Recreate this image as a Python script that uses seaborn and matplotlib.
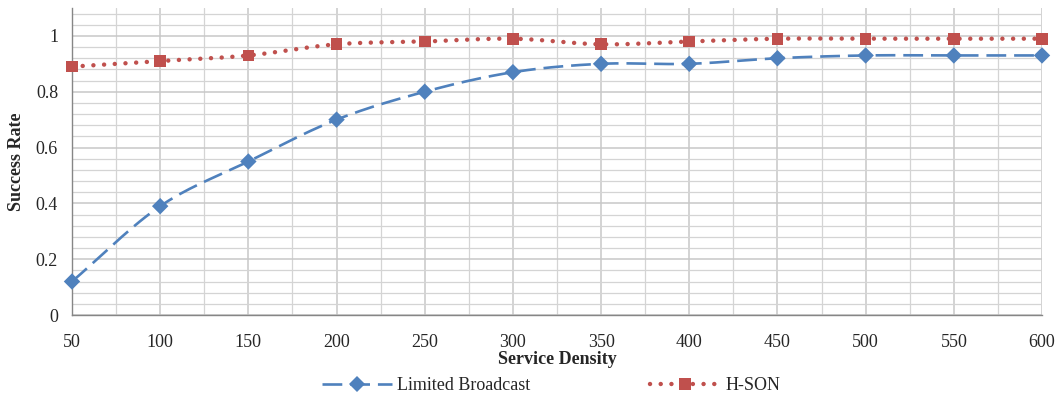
import numpy as np
import pandas as pd
import matplotlib
matplotlib.use("Agg")
import matplotlib.pyplot as plt
from matplotlib.ticker import MultipleLocator
from matplotlib.lines import Line2D
import seaborn as sns

density = [50, 100, 150, 200, 250, 300, 350, 400, 450, 500, 550, 600]
limited_broadcast = [0.12, 0.39, 0.55, 0.70, 0.80, 0.87, 0.90, 0.90, 0.92, 0.93, 0.93, 0.93]
h_son = [0.89, 0.91, 0.93, 0.97, 0.98, 0.99, 0.97, 0.98, 0.99, 0.99, 0.99, 0.99]
series_names = ["Limited Broadcast", "H-SON"]

sns.set_theme(style="white")
plt.rcParams["font.family"] = ["Liberation Serif", "DejaVu Serif"]

BLUE = "#4F81BD"
RED = "#C0504D"
FS = 13

BLUE_LS = (0, (7.5, 3))
RED_LS = (0, (0.01, 2.4))
RED_LW = 3.2


def smooth(x, y, n=30):
    """Catmull-Rom spline through the points, like a smoothed line in a spreadsheet chart."""
    x = np.asarray(x, float)
    y = np.asarray(y, float)
    px = np.concatenate([[2 * x[0] - x[1]], x, [2 * x[-1] - x[-2]]])
    py = np.concatenate([[2 * y[0] - y[1]], y, [2 * y[-1] - y[-2]]])
    xs, ys = [], []
    t = np.linspace(0, 1, n, endpoint=False)
    for i in range(1, len(px) - 2):
        for p, out in ((px, xs), (py, ys)):
            p0, p1, p2, p3 = p[i - 1], p[i], p[i + 1], p[i + 2]
            out.extend(0.5 * ((2 * p1) + (-p0 + p2) * t
                              + (2 * p0 - 5 * p1 + 4 * p2 - p3) * t ** 2
                              + (-p0 + 3 * p1 - 3 * p2 + p3) * t ** 3))
    xs.append(x[-1])
    ys.append(y[-1])
    return np.array(xs), np.array(ys)


fig = plt.figure(figsize=(10.57, 3.96), dpi=100)
ax = fig.add_axes([72 / 1057, 1 - 315 / 396, (1042 - 72) / 1057, (315 - 8) / 396])

# grid
ax.set_xlim(50, 600)
ax.set_ylim(0, 1.1)
ax.xaxis.set_major_locator(MultipleLocator(50))
ax.xaxis.set_minor_locator(MultipleLocator(25))
ax.yaxis.set_major_locator(MultipleLocator(0.2))
ax.yaxis.set_minor_locator(MultipleLocator(0.04))
ax.grid(which="major", color="#C8C8C8", linewidth=1.1)
ax.grid(which="minor", color="#D4D4D4", linewidth=0.9)
ax.set_axisbelow(True)

lb_x, lb_y = smooth(density, limited_broadcast)
hs_x, hs_y = smooth(density, h_son)
ax.plot(lb_x, lb_y, color=BLUE, linewidth=1.9, linestyle=BLUE_LS, zorder=3)
ax.plot(hs_x, hs_y, color=RED, linewidth=RED_LW, linestyle=RED_LS,
        dash_capstyle="round", zorder=3)

df = pd.DataFrame({"density": density * 2,
                   "rate": limited_broadcast + h_son,
                   "series": [series_names[0]] * len(density) + [series_names[1]] * len(density)})
sns.scatterplot(data=df, x="density", y="rate", hue="series", style="series",
                markers={series_names[0]: "D", series_names[1]: "s"},
                palette={series_names[0]: BLUE, series_names[1]: RED},
                s=70, linewidth=0, ax=ax, legend=False, zorder=4, clip_on=False)

for side in ["top", "right"]:
    ax.spines[side].set_visible(False)
for side in ["left", "bottom"]:
    ax.spines[side].set_color("#868686")
    ax.spines[side].set_linewidth(1.0)

ax.tick_params(axis="both", which="major", direction="out", length=5, width=1,
               color="#868686", labelsize=FS)
ax.tick_params(axis="x", which="major", pad=9)
ax.tick_params(axis="y", which="major", pad=5)
ax.tick_params(axis="both", which="minor", length=0)
ax.set_yticks([0, 0.2, 0.4, 0.6, 0.8, 1.0])
ax.set_yticklabels(["0", "0.2", "0.4", "0.6", "0.8", "1"])
ax.set_xticks(density)
ax.set_xticklabels([str(d) for d in density])

ax.set_xlabel("Service Density", fontsize=FS, fontweight="bold", labelpad=0)
ax.set_ylabel("Success Rate", fontsize=FS, fontweight="bold", labelpad=8)

handles = [
    Line2D([], [], color=BLUE, linewidth=1.9, linestyle=BLUE_LS,
           marker="D", markersize=8, markeredgewidth=0),
    Line2D([], [], color=RED, linewidth=RED_LW, linestyle=RED_LS,
           dash_capstyle="round", marker="s", markersize=8.5, markeredgewidth=0),
]
fig.legend(handles, series_names, loc="center", bbox_to_anchor=(551 / 1057, 10 / 396),
           ncol=2, frameon=False, fontsize=FS, handlelength=3.9, columnspacing=6.6,
           handletextpad=0.3, borderpad=0, borderaxespad=0)

fig.savefig("out.png", dpi=100)
